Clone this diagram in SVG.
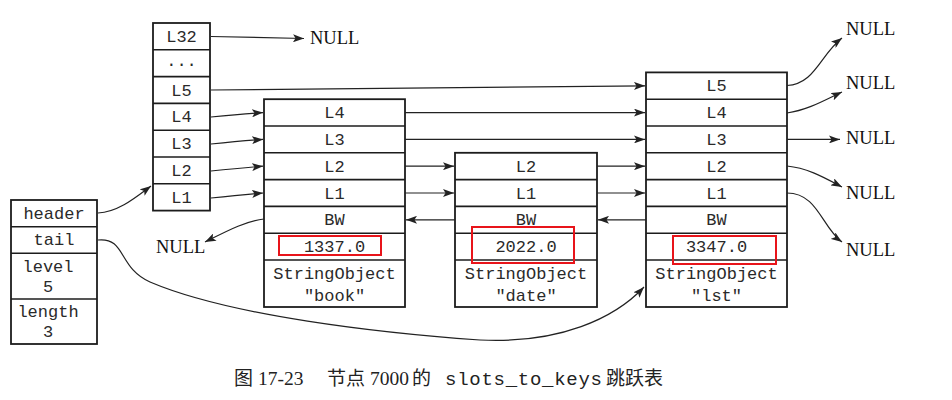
<svg xmlns="http://www.w3.org/2000/svg" width="952" height="400" viewBox="0 0 952 400">
<style>
.box{fill:#fff;stroke:#1c1c1c;stroke-width:1.8}
.sep{stroke:#1c1c1c;stroke-width:1.6}
.m{font-family:"Liberation Mono","DejaVu Sans Mono",monospace;font-size:17px;fill:#2a2a2a;text-anchor:middle}
.n{font-family:"Liberation Serif","DejaVu Serif",serif;font-size:18.5px;fill:#111}
.red{fill:none;stroke:#e8141a;stroke-width:2}
.c{fill:none;stroke:#222;stroke-width:1.2}
.cj{font-family:"Noto Sans CJK SC",sans-serif;font-size:19px;fill:#222}
.sf{font-family:"Liberation Serif",serif;font-size:19.5px;fill:#222}
</style>
<defs>
<marker id="ah" markerUnits="userSpaceOnUse" markerWidth="11" markerHeight="8" refX="11" refY="4" orient="auto">
<path d="M0,0 L11,4 L0,8 L2.5,4 z" fill="#222"/>
</marker>
</defs>
<rect width="952" height="400" fill="#fff"/>

<g id="zsl">
<rect class="box" x="11" y="200" width="86" height="144"/>
<line class="sep" x1="11" y1="226.7" x2="97" y2="226.7"/>
<line class="sep" x1="11" y1="253.3" x2="97" y2="253.3"/>
<line class="sep" x1="11" y1="299" x2="97" y2="299"/>
<text class="m" x="54" y="219">header</text>
<text class="m" x="54" y="245">tail</text>
<text class="m" x="48" y="272">level</text>
<text class="m" x="48" y="292">5</text>
<text class="m" x="48" y="317">length</text>
<text class="m" x="48" y="337">3</text>
</g>

<g id="header">
<rect class="box" x="153" y="23" width="57" height="187.6"/>
<line class="sep" x1="153" y1="49.8" x2="210" y2="49.8"/>
<line class="sep" x1="153" y1="76.6" x2="210" y2="76.6"/>
<line class="sep" x1="153" y1="103.4" x2="210" y2="103.4"/>
<line class="sep" x1="153" y1="130.2" x2="210" y2="130.2"/>
<line class="sep" x1="153" y1="157" x2="210" y2="157"/>
<line class="sep" x1="153" y1="183.8" x2="210" y2="183.8"/>
<text class="m" x="181.5" y="42">L32</text>
<text class="m" x="181.5" y="66">...</text>
<text class="m" x="181.5" y="95.5">L5</text>
<text class="m" x="181.5" y="122.3">L4</text>
<text class="m" x="181.5" y="149.1">L3</text>
<text class="m" x="181.5" y="175.9">L2</text>
<text class="m" x="181.5" y="202.7">L1</text>
</g>

<g id="node-book">
<rect class="box" x="264" y="99.2" width="141" height="207.8"/>
<line class="sep" x1="264" y1="126" x2="405" y2="126"/>
<line class="sep" x1="264" y1="152.8" x2="405" y2="152.8"/>
<line class="sep" x1="264" y1="179.6" x2="405" y2="179.6"/>
<line class="sep" x1="264" y1="206.4" x2="405" y2="206.4"/>
<line class="sep" x1="264" y1="233.2" x2="405" y2="233.2"/>
<line class="sep" x1="264" y1="260" x2="405" y2="260"/>
<text class="m" x="334.5" y="118.1">L4</text>
<text class="m" x="334.5" y="144.9">L3</text>
<text class="m" x="334.5" y="171.7">L2</text>
<text class="m" x="334.5" y="198.5">L1</text>
<text class="m" x="334.5" y="225.3">BW</text>
<text class="m" x="334.5" y="252.1">1337.0</text>
<text class="m" x="334.5" y="279">StringObject</text>
<text class="m" x="334.5" y="301">"book"</text>
<rect class="red" x="279" y="236" width="102" height="19"/>
</g>

<g id="node-date">
<rect class="box" x="455" y="152.8" width="142" height="154.2"/>
<line class="sep" x1="455" y1="179.6" x2="597" y2="179.6"/>
<line class="sep" x1="455" y1="206.4" x2="597" y2="206.4"/>
<line class="sep" x1="455" y1="233.2" x2="597" y2="233.2"/>
<line class="sep" x1="455" y1="260" x2="597" y2="260"/>
<text class="m" x="526" y="171.7">L2</text>
<text class="m" x="526" y="198.5">L1</text>
<text class="m" x="526" y="225.3">BW</text>
<text class="m" x="526" y="252.1">2022.0</text>
<text class="m" x="526" y="279">StringObject</text>
<text class="m" x="526" y="301">"date"</text>
<rect class="red" x="472" y="227" width="102" height="36"/>
</g>

<g id="node-lst">
<rect class="box" x="646" y="72.4" width="141" height="234.6"/>
<line class="sep" x1="646" y1="99.2" x2="787" y2="99.2"/>
<line class="sep" x1="646" y1="126" x2="787" y2="126"/>
<line class="sep" x1="646" y1="152.8" x2="787" y2="152.8"/>
<line class="sep" x1="646" y1="179.6" x2="787" y2="179.6"/>
<line class="sep" x1="646" y1="206.4" x2="787" y2="206.4"/>
<line class="sep" x1="646" y1="233.2" x2="787" y2="233.2"/>
<line class="sep" x1="646" y1="260" x2="787" y2="260"/>
<text class="m" x="716.5" y="91.3">L5</text>
<text class="m" x="716.5" y="118.1">L4</text>
<text class="m" x="716.5" y="144.9">L3</text>
<text class="m" x="716.5" y="171.7">L2</text>
<text class="m" x="716.5" y="198.5">L1</text>
<text class="m" x="716.5" y="225.3">BW</text>
<text class="m" x="716.5" y="252.1">3347.0</text>
<text class="m" x="716.5" y="279">StringObject</text>
<text class="m" x="716.5" y="301">"lst"</text>
<rect class="red" x="673" y="236" width="103" height="28"/>
</g>

<g id="nulls">
<text class="n" x="310" y="44">NULL</text>
<text class="n" x="156" y="253">NULL</text>
<text class="n" x="846" y="35">NULL</text>
<text class="n" x="846" y="89">NULL</text>
<text class="n" x="846" y="144">NULL</text>
<text class="n" x="846" y="199">NULL</text>
<text class="n" x="846" y="256">NULL</text>
</g>

<g id="connectors">
<path class="c" marker-end="url(#ah)" d="M211,36.5 L304,38.5"/>
<path class="c" marker-end="url(#ah)" d="M211,90 L645,85.8"/>
<path class="c" marker-end="url(#ah)" d="M211,117 Q240,114 263,112.6"/>
<path class="c" marker-end="url(#ah)" d="M211,144 Q240,141 263,139.4"/>
<path class="c" marker-end="url(#ah)" d="M211,171 Q240,168 263,166.2"/>
<path class="c" marker-end="url(#ah)" d="M211,198 Q240,195 263,193"/>
<path class="c" marker-end="url(#ah)" d="M98,213 C118,212 135,198 151,186"/>
<path class="c" marker-end="url(#ah)" d="M405,112.6 L645,112.6"/>
<path class="c" marker-end="url(#ah)" d="M405,139.4 L645,139.4"/>
<path class="c" marker-end="url(#ah)" d="M405,166.2 L454,166.2"/>
<path class="c" marker-end="url(#ah)" d="M405,193 L454,193"/>
<path class="c" marker-end="url(#ah)" d="M597,166.2 L645,166.2"/>
<path class="c" marker-end="url(#ah)" d="M597,193 L645,193"/>
<path class="c" marker-end="url(#ah)" d="M455,219.8 L406,219.8"/>
<path class="c" marker-end="url(#ah)" d="M646,219.8 L598,219.8"/>
<path class="c" marker-end="url(#ah)" d="M264,219 C245,221 225,232 205,242"/>
<path class="c" marker-end="url(#ah)" d="M787,85.5 C815,84 820,55 842,38"/>
<path class="c" marker-end="url(#ah)" d="M787,113 C808,110 825,100 842,92"/>
<path class="c" marker-end="url(#ah)" d="M787,139.4 L840,139.4"/>
<path class="c" marker-end="url(#ah)" d="M787,166 C808,168 825,178 842,187"/>
<path class="c" marker-end="url(#ah)" d="M787,193 C818,193 822,228 842,242"/>
<path class="c" marker-end="url(#ah)" d="M98,240 C126,237 118,268 150,282 C230,316 380,333 480,340 C560,344 615,318 644,287"/>
</g>

<g id="caption">
<text class="cj" x="234" y="385">图</text>
<text class="sf" x="258" y="385">17-23</text>
<text class="cj" x="327" y="385">节点</text>
<text class="sf" x="370" y="385">7000</text>
<text class="cj" x="412" y="385">的</text>
<text x="445" y="385" textLength="157" lengthAdjust="spacing" style="font-family:'Liberation Mono',monospace;font-size:19px;fill:#222">slots_to_keys</text>
<text class="cj" x="606" y="385">跳跃表</text>
</g>
</svg>
